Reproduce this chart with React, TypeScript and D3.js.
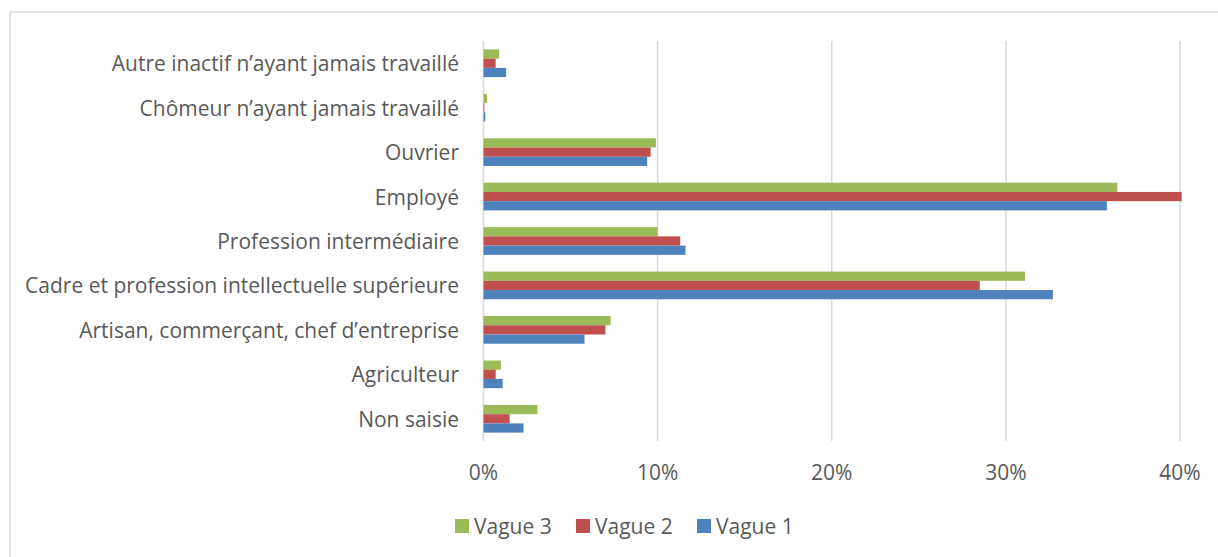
import React from "react";
import * as d3 from "d3";

const categories = [
  "Autre inactif n’ayant jamais travaillé",
  "Chômeur n’ayant jamais travaillé",
  "Ouvrier",
  "Employé",
  "Profession intermédiaire",
  "Cadre et profession intellectuelle supérieure",
  "Artisan, commerçant, chef d’entreprise",
  "Agriculteur",
  "Non saisie",
];
const seriesNames = ["Vague 3", "Vague 2", "Vague 1"];
const vague3 = [0.9, 0.2, 9.9, 36.4, 10.0, 31.1, 7.3, 1.0, 3.1];
const vague2 = [0.7, 0.05, 9.6, 40.1, 11.3, 28.5, 7.0, 0.7, 1.5];
const vague1 = [1.3, 0.1, 9.4, 35.8, 11.6, 32.7, 5.8, 1.1, 2.3];
const seriesValues = [vague3, vague2, vague1];
const colors = ["#9BBB59", "#C0504D", "#4F81BD"];
const ticks = [0, 10, 20, 30, 40];

const FONT = "'Open Sans', sans-serif";
const TEXT = "#595959";
const FS = 21;

export default function App() {
  const W = 1218, H = 557;
  const x = d3.scaleLinear().domain([0, 40]).range([483.5, 1180]);
  const y = d3.scaleBand().domain(categories).range([41, 441]).paddingInner(0.377).paddingOuter(0.1885);
  const inner = d3.scaleBand().domain(seriesNames).range([0, y.bandwidth()]);

  const legendX = [455, 576, 697];

  return (
    <svg width={W} height={H} style={{ position: "absolute", left: 0, top: 0, background: "#fff" }}>
      <rect x={10} y={12} width={1300} height={700} fill="#fff" stroke="#d9d9d9" strokeWidth={1.5} />
      {ticks.map((t) => (
        <line key={t} x1={x(t)} x2={x(t)} y1={41} y2={441} stroke="#d9d9d9" strokeWidth={1.5} />
      ))}
      {categories.map((c, i) => (
        <g key={c}>
          {seriesNames.map((s, j) => (
            <rect
              key={s}
              x={x(0)}
              y={(y(c) as number) + (inner(s) as number)}
              width={x(seriesValues[j][i]) - x(0)}
              height={inner.bandwidth()}
              fill={colors[j]}
            />
          ))}
          <text
            x={459}
            y={(y(c) as number) + y.bandwidth() / 2}
            textAnchor="end"
            dominantBaseline="central"
            fontFamily={FONT}
            fontSize={FS}
            fill={TEXT}
          >
            {c}
          </text>
        </g>
      ))}
      {ticks.map((t) => (
        <text key={t} x={x(t)} y={472} textAnchor="middle" dominantBaseline="central" fontFamily={FONT} fontSize={FS} fill={TEXT}>
          {t}%
        </text>
      ))}
      {seriesNames.map((s, j) => (
        <g key={s}>
          <rect x={legendX[j]} y={519} width={14} height={14} fill={colors[j]} />
          <text x={legendX[j] + 19} y={525.5} dominantBaseline="central" fontFamily={FONT} fontSize={FS} fill={TEXT}>
            {s}
          </text>
        </g>
      ))}
    </svg>
  );
}
